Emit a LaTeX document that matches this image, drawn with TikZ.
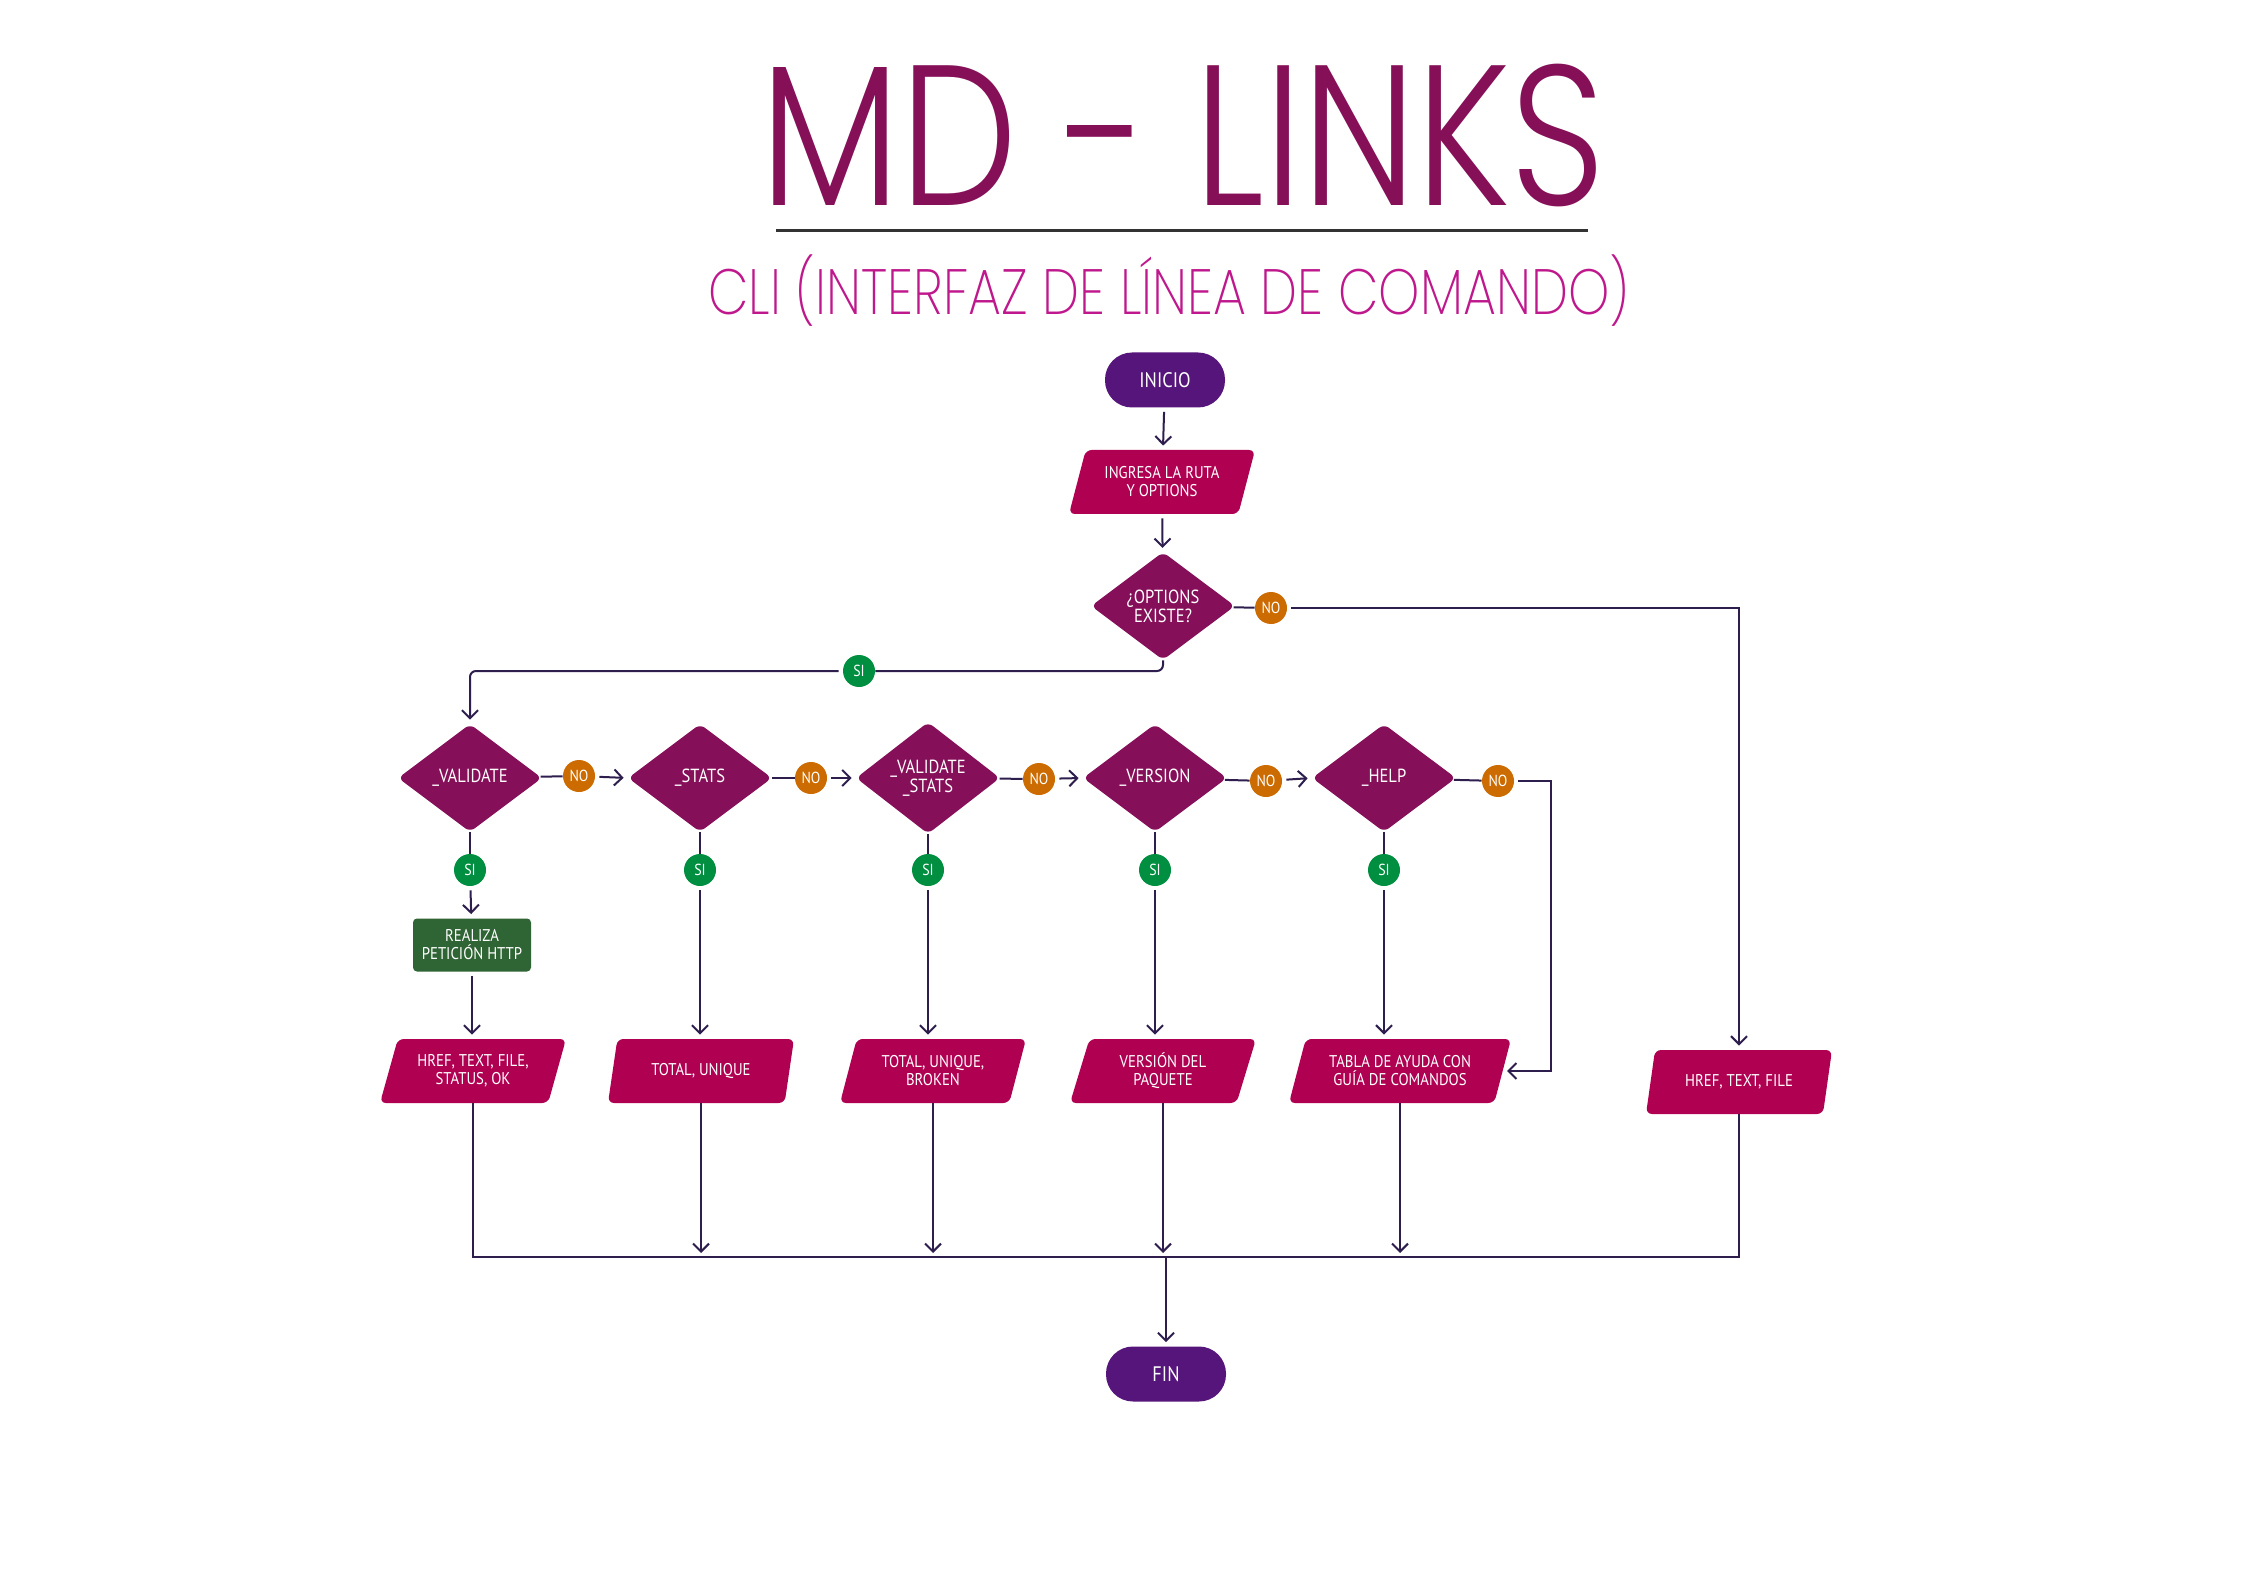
\documentclass[tikz,border=0pt]{standalone}
\usepackage{fontspec}
\setmainfont{PT Sans}[FakeStretch=0.87]
\newfontfamily\titlefont{Poppins Light}[FakeStretch=0.83]
\newfontfamily\subfont{Poppins ExtraLight}[FakeStretch=0.82]
\usetikzlibrary{shapes.geometric,arrows.meta,positioning}
\definecolor{mdtitle}{RGB}{134,16,88}
\definecolor{mdsub}{RGB}{190,24,140}
\definecolor{mdterm}{RGB}{86,21,122}
\definecolor{mdio}{RGB}{176,0,82}
\definecolor{mddec}{RGB}{134,15,90}
\definecolor{mdno}{RGB}{204,107,0}
\definecolor{mdsi}{RGB}{0,143,64}
\definecolor{mdproc}{RGB}{47,100,52}
\definecolor{mdline}{RGB}{45,30,78}

\begin{document}
\begin{tikzpicture}[x=0.5pt,y=-0.5pt,
  link/.style={draw=mdline,line width=1pt},
  arr/.style={link,-{Straight Barb[length=4pt,width=8pt]},shorten >=2pt,shorten <=2pt},
  term/.style={fill=mdterm,text=white,rounded corners=13.5pt,minimum width=60pt,minimum height=27.5pt,font=\fontsize{10.5}{12}\selectfont},
  io/.style={trapezium,trapezium left angle=64,trapezium right angle=116,trapezium stretches body,fill=mdio,text=white,rounded corners=3pt,minimum width=93pt,minimum height=32pt,align=center,inner sep=1pt,font=\fontsize{8.5}{9}\selectfont},
  dec/.style={diamond,fill=mddec,text=white,rounded corners=3pt,minimum width=72pt,minimum height=54pt,align=center,inner sep=0pt,font=\fontsize{9.5}{9.5}\selectfont},
  nobub/.style={circle,fill=mdno,text=white,minimum size=16pt,inner sep=0pt,font=\fontsize{8}{8}\selectfont},
  sibub/.style={circle,fill=mdsi,text=white,minimum size=16pt,inner sep=0pt,font=\fontsize{8}{8}\selectfont},
  proc/.style={fill=mdproc,text=white,rounded corners=2pt,minimum width=59pt,minimum height=26.5pt,align=center,inner sep=1pt,font=\fontsize{8.5}{9}\selectfont}
]
\fill[white] (0,0) rectangle (2263,1572);
\useasboundingbox (0,0) rectangle (2263,1572);

% Title
\node[text=mdtitle,anchor=base] (title) at (1183,206) {\titlefont\fontsize{100}{100}\selectfont MD - LINKS};
\draw[line width=1.5pt,color=black!80] (776,231) -- (1588,231);
\node[text=mdsub,anchor=base] (subtitle) at (1169,315) {\subfont\fontsize{32}{32}\selectfont CLI (INTERFAZ DE LÍNEA DE COMANDO)};

% Start
\node[term] (inicio) at (1165,380) {INICIO};
\node[io] (ruta) at (1162,482) {INGRESA LA RUTA\\Y OPTIONS};
\node[dec] (opt) at (1163,606) {¿OPTIONS\\EXISTE?};
\node[nobub] (no0) at (1271,608) {NO};
\node[sibub] (si0) at (859,671) {SI};
\draw[arr] (inicio) -- (ruta);
\draw[arr] (ruta) -- (opt);

% Options row
\foreach \name/\x/\txt in {val/470/\_VALIDATE, sta/700/\_STATS, vs/928/{\_VALIDATE\\\_STATS}, ver/1155/\_VERSION, hlp/1384/\_HELP} {
    \node[dec] (\name) at (\x,778) {\txt};
    \node[sibub] (si-\name) at (\x,870) {SI};
    \draw[link] (\name) -- (si-\name);
}
\node[nobub] (no1) at (579,776) {NO};
\node[nobub] (no2) at (811,778) {NO};
\node[nobub] (no3) at (1039,779) {NO};
\node[nobub] (no4) at (1266,781) {NO};
\node[nobub] (no5) at (1498,781) {NO};
\draw[link] (val) -- (no1);
\draw[arr] (no1) -- (sta.west);
\draw[link] (sta) -- (no2);
\draw[arr] (no2) -- (vs.west);
\draw[link] (vs) -- (no3);
\draw[arr] (no3) -- (ver.west);
\draw[link] (ver) -- (no4);
\draw[arr] (no4) -- (hlp.west);
\draw[link] (hlp) -- (no5);

% Results
\node[proc] (http) at (472,945) {REALIZA\\PETICIÓN HTTP};
\node[io] (o1) at (473,1071) {HREF, TEXT, FILE,\\STATUS, OK};
\node[io] (o2) at (701,1071) {TOTAL, UNIQUE};
\node[io] (o3) at (933,1071) {TOTAL, UNIQUE,\\BROKEN};
\node[io] (o4) at (1163,1071) {VERSIÓN DEL\\PAQUETE};
\node[io,minimum width=111pt] (o5) at (1400,1071) {TABLA DE AYUDA CON\\GUÍA DE COMANDOS};
\node[io] (o6) at (1739,1082) {HREF, TEXT, FILE};
\node[term] (fin) at (1166,1374) {FIN};

\draw[arr] (si-val) -- (http);
\draw[arr] (http) -- (http |- o1.north);
\draw[arr] (si-sta) -- (si-sta |- o2.north);
\draw[arr] (si-vs) -- (si-vs |- o3.north);
\draw[arr] (si-ver) -- (si-ver |- o4.north);
\draw[arr] (si-hlp) -- (si-hlp |- o5.north);

% Branches of the first question
\draw[link,rounded corners=3pt] (opt.south) |- (si0);
\draw[arr,rounded corners=3pt] (si0) -| (val.north);
\draw[link] (opt) -- (no0);
\draw[arr] (no0) -| (o6.north);
\coordinate (helpturn) at (1551,0);
\draw[arr] (no5) -- (no5 -| helpturn) |- (o5.east);

% Merge to the end
\coordinate (merge) at (1166,1257);
\draw[link] (o1.south) |- (merge) -| (o6.south);
\foreach \o in {o2,o3,o4,o5}
    \draw[arr,shorten <=0pt] (\o.south) -- (\o.south |- merge);
\draw[arr,shorten <=0pt] (merge) -- (fin);
\end{tikzpicture}
\end{document}
